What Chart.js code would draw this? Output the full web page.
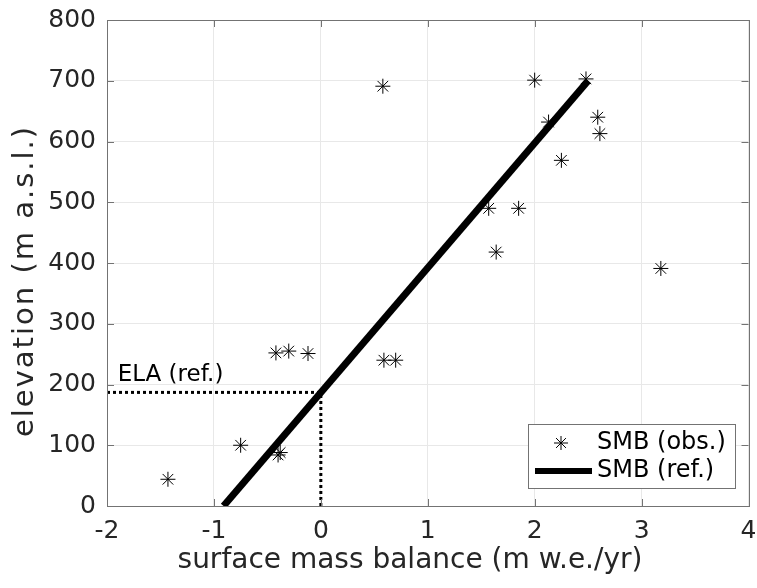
<!DOCTYPE html>
<html>
<head>
<meta charset="utf-8">
<script src="https://cdn.jsdelivr.net/npm/chart.js@4"></script>
<style>
  body { margin: 0; background: #fff; }
  canvas { display: block; }
</style>
</head>
<body>
<canvas id="smbChart" width="757" height="588"></canvas>
<script>
// observed surface mass balance vs elevation
const obsSmb  = [-1.43, -0.75, -0.40, -0.38, -0.42, -0.30, -0.12, 0.59, 0.70, 0.58, 1.57, 1.85, 1.64, 2.00, 2.48, 2.13, 2.59, 2.61, 2.25, 3.18];
const obsElev = [44, 100, 84, 88, 252, 255, 251, 240, 240, 691, 490, 490, 418, 701, 703, 632, 640, 613, 569, 391];

// reference SMB line
const refSmb  = [-0.91, 2.5];
const refElev = [0, 700];
const ela = 187;

const xTicks = [-2, -1, 0, 1, 2, 3, 4];
const yTicks = [0, 100, 200, 300, 400, 500, 600, 700, 800];

const FONT = "'DejaVu Sans', sans-serif";
const TEXT = '#262626';
const AXIS = '#737373';

const toPoints = (xs, ys) => xs.map((x, i) => ({x: x, y: ys[i]}));

// box, inward ticks, axis titles, ELA label and legend (MATLAB style)
const extras = {
  id: 'extras',
  afterDraw(chart) {
    const ctx = chart.ctx;
    const a = chart.chartArea;
    const xs = chart.scales.x, ys = chart.scales.y;
    ctx.save();
    ctx.strokeStyle = AXIS;
    ctx.lineWidth = 1;
    ctx.beginPath();
    for (const t of xTicks) {
      const px = Math.round(xs.getPixelForValue(t)) + 0.5;
      ctx.moveTo(px, a.bottom); ctx.lineTo(px, a.bottom - 7);
      ctx.moveTo(px, a.top); ctx.lineTo(px, a.top + 7);
    }
    for (const t of yTicks) {
      const py = Math.round(ys.getPixelForValue(t)) + 0.5;
      ctx.moveTo(a.left, py); ctx.lineTo(a.left + 7, py);
      ctx.moveTo(a.right, py); ctx.lineTo(a.right - 7, py);
    }
    ctx.stroke();
    ctx.strokeRect(Math.round(a.left) + 0.5, Math.round(a.top) + 0.5,
                   Math.round(a.right - a.left), Math.round(a.bottom - a.top));

    // axis titles
    ctx.fillStyle = TEXT;
    ctx.textAlign = 'center';
    ctx.textBaseline = 'alphabetic';
    ctx.font = '28px ' + FONT;
    ctx.fillText('surface mass balance (m w.e./yr)', 410, 568);
    ctx.save();
    ctx.translate(33, 281);
    ctx.rotate(-Math.PI / 2);
    ctx.font = '29px ' + FONT;
    ctx.letterSpacing = '2px';
    ctx.fillText('elevation (m a.s.l.)', 0, 0);
    ctx.restore();

    // ELA label
    ctx.fillStyle = '#000';
    ctx.font = '23px ' + FONT;
    ctx.textAlign = 'left';
    ctx.fillText('ELA (ref.)', xs.getPixelForValue(-1.9), ys.getPixelForValue(ela) - 11);

    // legend
    const lx = 528, ly = 424, lw = 207, lh = 64;
    ctx.fillStyle = '#fff';
    ctx.fillRect(lx, ly, lw, lh);
    ctx.strokeStyle = AXIS;
    ctx.strokeRect(lx + 0.5, ly + 0.5, lw, lh);

    ctx.strokeStyle = '#000';
    ctx.lineWidth = 1;
    const sx = 561, sy = 443, r = 7;
    ctx.beginPath();
    ctx.moveTo(sx - r, sy); ctx.lineTo(sx + r, sy);
    ctx.moveTo(sx, sy - r); ctx.lineTo(sx, sy + r);
    const d = r * Math.SQRT1_2;
    ctx.moveTo(sx - d, sy - d); ctx.lineTo(sx + d, sy + d);
    ctx.moveTo(sx - d, sy + d); ctx.lineTo(sx + d, sy - d);
    ctx.stroke();

    ctx.lineWidth = 6;
    ctx.beginPath();
    ctx.moveTo(535, 471); ctx.lineTo(592, 471);
    ctx.stroke();

    ctx.fillStyle = '#000';
    ctx.font = '24px ' + FONT;
    ctx.textBaseline = 'middle';
    ctx.fillText('SMB (obs.)', 597, 443);
    ctx.fillText('SMB (ref.)', 597, 471);
    ctx.restore();
  }
};

new Chart(document.getElementById('smbChart'), {
  type: 'scatter',
  data: {
    datasets: [
      {
        label: 'ELA h',
        type: 'line',
        data: [{x: -2, y: ela}, {x: 0, y: ela}],
        borderColor: '#000',
        borderWidth: 3,
        borderDash: [3, 3],
        pointRadius: 0,
        order: 3,
      },
      {
        label: 'ELA v',
        type: 'line',
        data: [{x: 0, y: 0}, {x: 0, y: ela}],
        borderColor: '#000',
        borderWidth: 3,
        borderDash: [3, 3],
        pointRadius: 0,
        order: 3,
      },
      {
        label: 'SMB (ref.)',
        type: 'line',
        data: toPoints(refSmb, refElev),
        borderColor: '#000',
        borderWidth: 7,
        pointRadius: 0,
        order: 2,
      },
      {
        label: 'SMB (obs.)',
        data: toPoints(obsSmb, obsElev),
        pointStyle: 'star',
        pointRadius: 7.5,
        borderColor: '#000',
        backgroundColor: '#000',
        borderWidth: 1,
        order: 1,
      },
    ],
  },
  options: {
    responsive: false,
    animation: false,
    layout: {padding: {top: 20, right: 7, left: 0, bottom: 0}},
    plugins: {legend: {display: false}, tooltip: {enabled: false}},
    scales: {
      x: {
        type: 'linear',
        min: -2,
        max: 4,
        afterFit: (s) => { s.height = 82; s.paddingLeft = 0; s.paddingRight = 0; },
        afterBuildTicks: (s) => { s.ticks = xTicks.map(v => ({value: v})); },
        grid: {color: '#e8e8e8', drawTicks: false},
        border: {display: false},
        ticks: {color: TEXT, font: {family: FONT, size: 25}, padding: 10, maxRotation: 0},
      },
      y: {
        min: 0,
        max: 800,
        afterFit: (s) => { s.width = 107; s.paddingTop = 0; s.paddingBottom = 0; },
        afterBuildTicks: (s) => { s.ticks = yTicks.map(v => ({value: v})); },
        grid: {color: '#e8e8e8', drawTicks: false},
        border: {display: false},
        ticks: {color: TEXT, font: {family: FONT, size: 25}, padding: 11},
      },
    },
  },
  plugins: [extras],
});
</script>
</body>
</html>
